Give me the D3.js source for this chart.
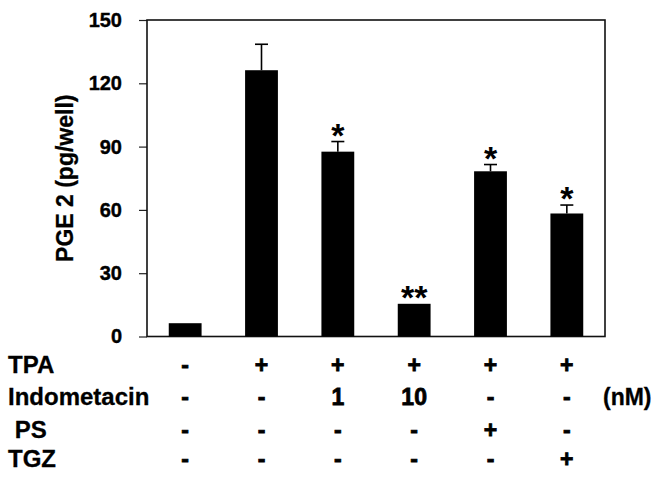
<!DOCTYPE html>
<html>
<head>
<meta charset="utf-8">
<script src="https://cdn.jsdelivr.net/npm/d3@7"></script>
<style>
  body { margin: 0; background: #fff; }
  text { font-family: "Liberation Sans", Arial, sans-serif; font-weight: bold; fill: #000; }
</style>
</head>
<body>
<svg id="chart" width="661" height="478"></svg>
<script>
// data
const groups = ["g1", "g2", "g3", "g4", "g5", "g6"];
const pge2 = [6.3, 126.2, 87.6, 15.5, 78.3, 58.3];
const errs = [0, 12.3, 4.8, 0, 3.2, 4];
const marks = ["", "", "*", "**", "*", "*"];
const yTicks = [0, 30, 60, 90, 120, 150];
const rowNames = ["TPA", "Indometacin", " PS", "TGZ"];
const rowTPA = ["-", "+", "+", "+", "+", "+"];
const rowIndo = ["-", "-", "1", "10", "-", "-"];
const rowPS = ["-", "-", "-", "-", "+", "-"];
const rowTGZ = ["-", "-", "-", "-", "-", "+"];
const rows = [rowTPA, rowIndo, rowPS, rowTGZ];

const svg = d3.select("#chart");
const m = { left: 147, top: 20, right: 605, bottom: 336.5 };

const x = d3.scaleBand().domain(groups).range([m.left, m.right]).paddingInner(0.57).paddingOuter(0.285);
const y = d3.scaleLinear().domain([0, 150]).range([m.bottom, m.top]);

// y axis
const yAxis = svg.append("g")
  .attr("transform", "translate(" + m.left + ",0)")
  .call(d3.axisLeft(y).tickValues(yTicks).tickSize(8).tickPadding(17));
yAxis.select(".domain").remove();
yAxis.selectAll("line").attr("stroke", "#222").attr("stroke-width", 1.2);
yAxis.selectAll("text")
  .style("font-size", "20px")
  .style("font-family", "Liberation Sans, Arial, sans-serif")
  .style("font-weight", "bold")
  .attr("fill", "#000").attr("stroke", "#000").attr("stroke-width", 0.4);

// frame
svg.append("rect")
  .attr("x", m.left).attr("y", m.top)
  .attr("width", m.right - m.left).attr("height", m.bottom - m.top)
  .attr("fill", "none").attr("stroke", "#111").attr("stroke-width", 1.6);

// bars
svg.selectAll(".bar").data(groups).enter().append("rect")
  .attr("class", "bar")
  .attr("x", d => x(d))
  .attr("y", (d, i) => y(pge2[i]))
  .attr("width", x.bandwidth())
  .attr("height", (d, i) => y(0) - y(pge2[i]))
  .attr("fill", "#000");

// error bars (upper only)
const eb = svg.selectAll(".err").data(groups.filter((d, i) => errs[i] > 0)).enter().append("g");
eb.append("line")
  .attr("x1", d => x(d) + x.bandwidth() / 2).attr("x2", d => x(d) + x.bandwidth() / 2)
  .attr("y1", d => y(pge2[groups.indexOf(d)]))
  .attr("y2", d => { const i = groups.indexOf(d); return y(pge2[i] + errs[i]); })
  .attr("stroke", "#000").attr("stroke-width", 1.6);
eb.append("line")
  .attr("x1", d => x(d) + x.bandwidth() / 2 - 6.5).attr("x2", d => x(d) + x.bandwidth() / 2 + 6.5)
  .attr("y1", d => { const i = groups.indexOf(d); return y(pge2[i] + errs[i]); })
  .attr("y2", d => { const i = groups.indexOf(d); return y(pge2[i] + errs[i]); })
  .attr("stroke", "#000").attr("stroke-width", 1.6);

// significance marks
svg.selectAll(".mark").data(groups).enter().append("text")
  .attr("x", d => x(d) + x.bandwidth() / 2)
  .attr("y", (d, i) => y(pge2[i] + errs[i]) + 5)
  .attr("text-anchor", "middle")
  .style("font-size", "34px")
  .text((d, i) => marks[i]);

// y label
svg.append("text")
  .attr("transform", "translate(73," + (m.top + m.bottom) / 2 + ") rotate(-90)")
  .attr("text-anchor", "middle")
  .attr("stroke", "#000").attr("stroke-width", 0.3)
  .style("font-size", "23px")
  .text("PGE 2 (pg/well)");

// treatment table
const rowY = [373, 405, 438, 467];
rowNames.forEach((name, r) => {
  svg.append("text")
    .attr("x", 8).attr("y", rowY[r])
    .attr("xml:space", "preserve")
    .attr("stroke", "#000").attr("stroke-width", 0.3)
    .style("font-size", "24px")
    .text(name);
  svg.selectAll(".row" + r).data(groups).enter().append("text")
    .attr("x", d => x(d) + x.bandwidth() / 2)
    .attr("y", rowY[r])
    .attr("text-anchor", "middle")
    .attr("stroke", "#000").attr("stroke-width", 0.8)
    .style("font-size", "23px")
    .text((d, i) => rows[r][i]);
});
svg.append("text")
  .attr("x", 603).attr("y", rowY[1])
  .attr("stroke", "#000").attr("stroke-width", 0.3)
  .style("font-size", "23px")
  .text("(nM)");
</script>
</body>
</html>
